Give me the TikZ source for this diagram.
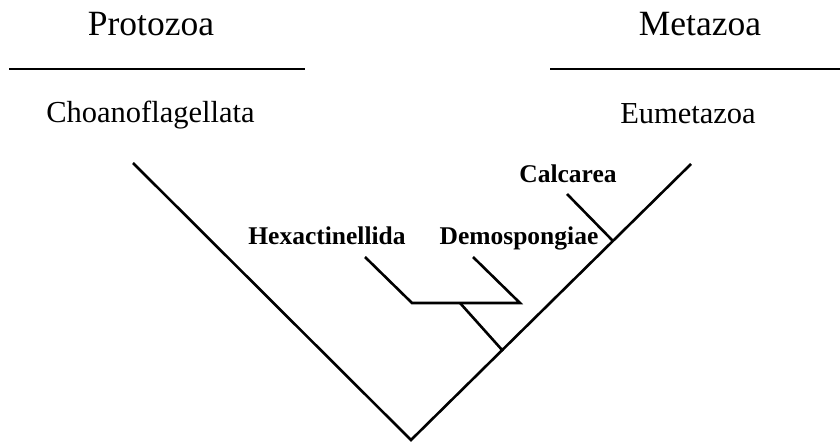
\documentclass[tikz,border=0pt]{standalone}
\usepackage{fontspec}
\setmainfont{Liberation Serif}

\begin{document}
\begin{tikzpicture}[x=1pt, y=-1pt, line width=2.6pt,
    group/.style={font=\fontsize{35.5}{40}\selectfont, anchor=base},
    clade/.style={font=\fontsize{30.5}{36}\selectfont, anchor=base},
    sponge/.style={font=\bfseries\fontsize{25.5}{30}\selectfont, anchor=base}]

    \useasboundingbox (0,0) rectangle (840,443);

    % --- Group names and rules ---
    \node[group] (proto) at (151,35.5) {Protozoa};
    \node[group] (meta) at (700,35.5) {Metazoa};
    \draw[line width=2pt] (9,69) -- (305,69);
    \draw[line width=2pt] (550,69) -- (840,69);

    \node[clade] (choano) at (150.5,123) {Choanoflagellata};
    \node[clade] (eumeta) at (688,124) {Eumetazoa};

    % --- Tree points ---
    \coordinate (root) at (411,440);
    \coordinate (choTip) at (133,163);
    \coordinate (eumTip) at (691,164);
    \coordinate (spJ) at (503,351);
    \coordinate (calJ) at (613,241);
    \coordinate (calTip) at (567,194);
    \coordinate (barM) at (460,303);
    \coordinate (barL) at (412,303);
    \coordinate (barR) at (520,303);
    \coordinate (hexTip) at (365,257);
    \coordinate (demTip) at (473,257);

    % --- Branches ---
    \draw (choTip) -- (root) -- (eumTip);
    \draw (calJ) -- (calTip);
    \draw (spJ) -- (barM);
    \draw (hexTip) -- (barL) -- (barR) -- (demTip);

    % --- Sponge labels ---
    \node[sponge] (hexa) at (327,245) {Hexactinellida};
    \node[sponge] (demo) at (519,245) {Demospongiae};
    \node[sponge] (calc) at (568,183) {Calcarea};

\end{tikzpicture}
\end{document}
